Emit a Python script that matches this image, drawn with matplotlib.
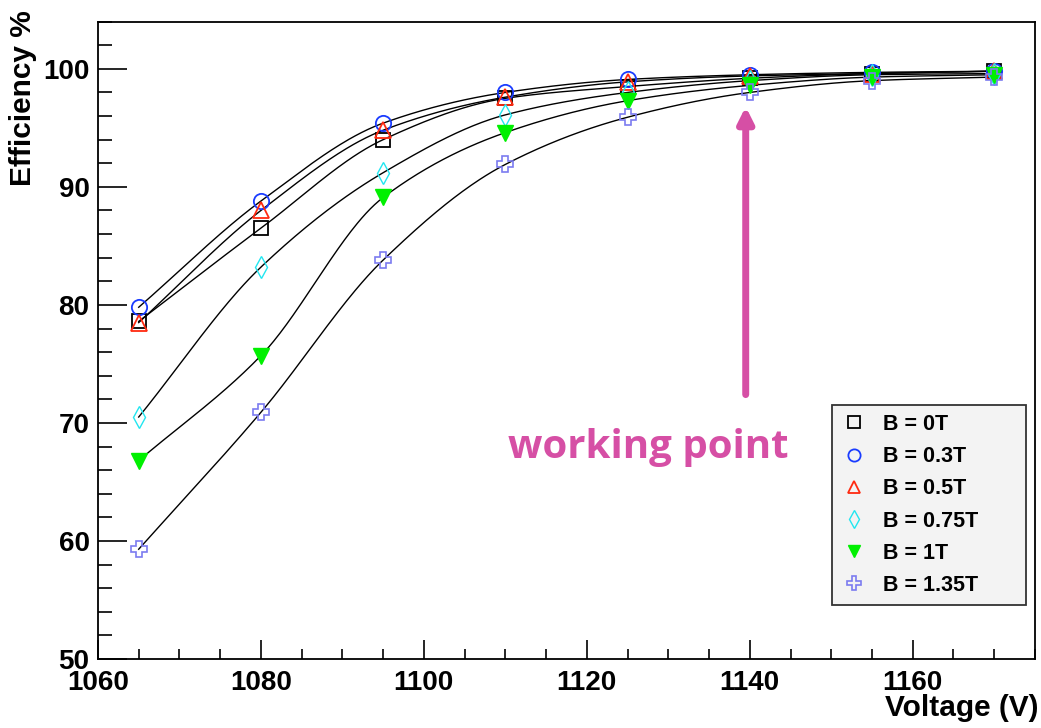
import numpy as np
import matplotlib.pyplot as plt
from matplotlib.ticker import MultipleLocator

voltage = [1065, 1080, 1095, 1110, 1125, 1140, 1155, 1170]

eff_0T = [78.6, 86.5, 94.0, 97.5, 98.5, 99.2, 99.6, 99.8]
eff_03T = [79.8, 88.8, 95.4, 98.0, 99.1, 99.5, 99.7, 99.8]
eff_05T = [78.5, 88.0, 94.8, 97.6, 98.9, 99.4, 99.6, 99.8]
eff_075T = [70.5, 83.2, 91.2, 96.1, 98.0, 99.0, 99.5, 99.6]
eff_1T = [66.8, 75.7, 89.1, 94.6, 97.3, 98.6, 99.3, 99.5]
eff_135T = [59.3, 70.9, 83.8, 91.9, 95.9, 98.0, 99.0, 99.3]

labels = ["B = 0T", "B = 0.3T", "B = 0.5T", "B = 0.75T", "B = 1T", "B = 1.35T"]


def pchip(x, y, xs):
    # monotone cubic through the measured points (smooth guide line)
    x = np.asarray(x, float)
    y = np.asarray(y, float)
    h = np.diff(x)
    d = np.diff(y) / h
    m = np.zeros_like(y)
    for k in range(1, len(x) - 1):
        if d[k - 1] * d[k] > 0:
            w1 = 2 * h[k] + h[k - 1]
            w2 = h[k] + 2 * h[k - 1]
            m[k] = (w1 + w2) / (w1 / d[k - 1] + w2 / d[k])
    m[0] = d[0]
    m[-1] = d[-1]
    idx = np.clip(np.searchsorted(x, xs) - 1, 0, len(x) - 2)
    t = (xs - x[idx]) / h[idx]
    h00 = 2 * t**3 - 3 * t**2 + 1
    h10 = t**3 - 2 * t**2 + t
    h01 = -2 * t**3 + 3 * t**2
    h11 = t**3 - t**2
    return h00 * y[idx] + h10 * h[idx] * m[idx] + h01 * y[idx + 1] + h11 * h[idx] * m[idx + 1]


plt.rcParams['font.family'] = ['Liberation Sans', 'DejaVu Sans']
plt.rcParams['font.weight'] = 'bold'

fig = plt.figure(figsize=(10.41, 7.28), dpi=100)
ax = fig.add_axes([0.0941, 0.0948, 0.9001, 0.8755])

series = [eff_0T, eff_03T, eff_05T, eff_075T, eff_1T, eff_135T]
styles = [
    dict(marker='s', mfc='none', mec='black', ms=10.5, mew=1.3),
    dict(marker='o', mfc='none', mec='#1a3cff', ms=11, mew=1.3),
    dict(marker='^', mfc='none', mec='#ff2a10', ms=11.5, mew=1.3),
    dict(marker='d', mfc='none', mec='#22e6f0', ms=11, mew=1.0),
    dict(marker='v', mfc='#00f000', mec='#00f000', ms=11, mew=1.0),
    dict(marker='P', mfc='none', mec='#7b7bf0', ms=12, mew=1.2),
]

xs = np.linspace(voltage[0], voltage[-1], 400)
for vals in series:
    ax.plot(xs, pchip(voltage, vals, xs), color='black', lw=1.0, zorder=2)
handles = []
for vals, st, lab in zip(series, styles, labels):
    h, = ax.plot(voltage, vals, ls='none', label=lab, zorder=3, **st)
    handles.append(h)

ax.set_xlim(1060, 1175)
ax.set_ylim(50, 104)
ax.xaxis.set_major_locator(MultipleLocator(20))
ax.xaxis.set_minor_locator(MultipleLocator(5))
ax.yaxis.set_major_locator(MultipleLocator(10))
ax.yaxis.set_minor_locator(MultipleLocator(2))
ax.tick_params(axis='y', which='major', direction='in', length=21, width=1.2, labelsize=20, pad=6)
ax.tick_params(axis='y', which='minor', direction='in', length=10, width=1.2)
ax.tick_params(axis='x', which='major', direction='in', length=14, width=1.2, labelsize=20, pad=8)
ax.tick_params(axis='x', which='minor', direction='in', length=7, width=1.2)
for lab in ax.get_xticklabels() + ax.get_yticklabels():
    lab.set_fontweight('bold')
for sp in ax.spines.values():
    sp.set_linewidth(1.3)

fig.text(0.0221, 0.986, "Efficiency %", rotation=90, ha='center', va='top',
         fontsize=21.5, fontweight='bold')
fig.text(0.998, 0.008, "Voltage (V)", ha='right', va='bottom',
         fontsize=21.5, fontweight='bold')

pink = '#d64fa5'
ax.annotate("", xy=(1139.5, 96.8), xytext=(1139.5, 72.4),
            arrowprops=dict(arrowstyle='-|>,head_length=0.9,head_width=0.45',
                            color=pink, lw=5, shrinkA=0, shrinkB=0))
ax.text(1127.5, 67.9, "working point", color=pink, fontsize=29,
        fontweight='bold', family='Open Sans', ha='center', va='center')

leg = ax.legend(handles=handles, loc='upper left',
                bbox_to_anchor=(0.7834, 0.0878, 0.2066, 0.3102), mode='expand',
                frameon=True, fancybox=False, borderpad=0.4,
                labelspacing=0.52, handlelength=1.2, handletextpad=0.75,
                markerscale=0.8, borderaxespad=0,
                prop=dict(weight='bold', size=15.5))
leg.get_frame().set_facecolor('#f3f3f3')
leg.get_frame().set_edgecolor('#333333')
leg.get_frame().set_linewidth(1.3)
leg.get_frame().set_alpha(1)

fig.savefig("out.png", dpi=100)
